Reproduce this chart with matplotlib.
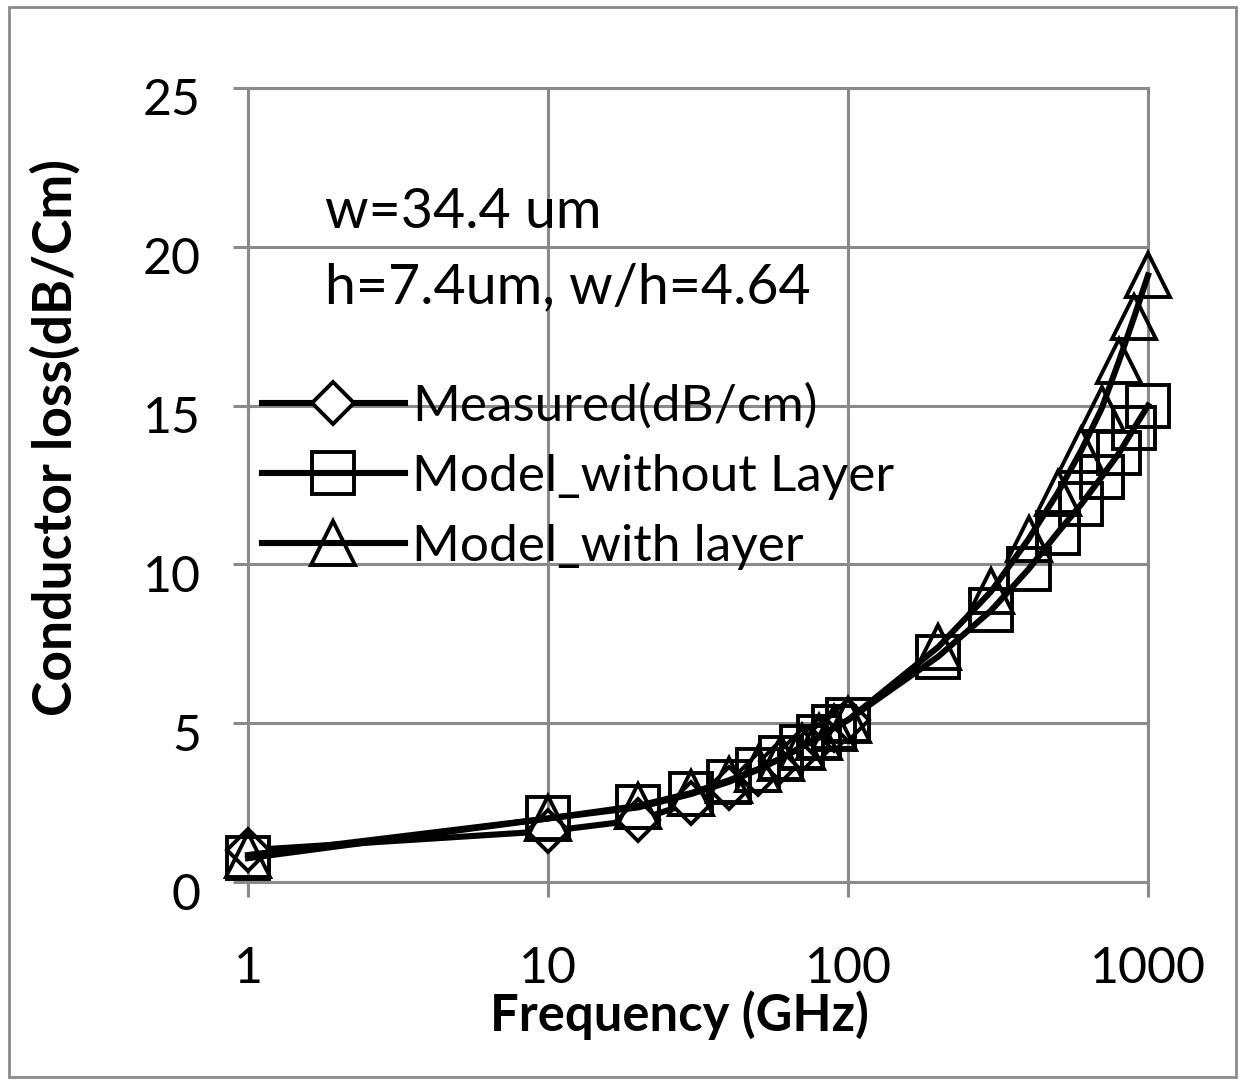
import matplotlib
matplotlib.use("Agg")
import matplotlib.pyplot as plt
from matplotlib.patches import Rectangle
from matplotlib.transforms import ScaledTranslation

# ---- data ----
freq_all = [1, 10, 20, 30, 40, 50, 60, 70, 80, 90, 100,
            200, 300, 400, 500, 600, 700, 800, 900, 1000]
freq_meas = [1, 10, 20, 30, 40, 50, 60, 70, 80, 90, 100]
measured = [1.0, 1.6, 1.95, 2.5, 2.95, 3.4, 3.8, 4.15, 4.5, 4.8, 5.1]
model_without = [0.75, 2.0, 2.35, 2.77, 3.15, 3.53, 3.9, 4.25, 4.57, 4.88, 5.1,
                 7.1, 8.55, 9.85, 11.0, 11.9, 12.75, 13.5, 14.3, 15.0]
model_with = [0.85, 2.0, 2.4, 2.8, 3.2, 3.55, 3.9, 4.25, 4.55, 4.85, 5.1,
              7.4, 9.15, 10.8, 12.25, 13.6, 14.9, 16.4, 17.8, 19.1]
series_labels = ["Measured(dB/cm)", "Model_without Layer", "Model_with layer"]
x_ticks = [1, 10, 100, 1000]
x_ticklabels = ["1", "10", "100", "1000"]
y_ticks = [0, 5, 10, 15, 20, 25]
annot_lines = ["w=34.4 um", "h=7.4um, w/h=4.64"]
xlabel = "Frequency (GHz)"
ylabel = "Conductor loss(dB/Cm)"

plt.rcParams['font.family'] = ['Lato', 'DejaVu Sans']

W, H = 1244, 1085
fig = plt.figure(figsize=(W / 100, H / 100), dpi=100)
ax = fig.add_axes([248 / W, 1 - 882 / H, 900 / W, 794 / H])

grid_c = '#8a8a8a'
lw_line = 4.4
mew = 2.8
common = dict(color='black', lw=lw_line, mec='black', mew=mew, clip_on=False)

ax.plot(freq_meas, measured, marker='D', ms=21, mfc='white', label=series_labels[0],
        zorder=3, **common)
ax.plot(freq_all, model_without, marker='s', ms=30, mfc='none', label=series_labels[1],
        zorder=4, **common)
ax.plot(freq_all, model_with, marker='^', ms=31, mfc='none', label=series_labels[2],
        zorder=5, **common)

ax.set_xscale('log')
ax.set_xlim(1, 1000)
ax.set_ylim(0, 25)
ax.set_xticks(x_ticks)
ax.set_xticklabels(x_ticklabels)
ax.minorticks_off()
ax.set_yticks(y_ticks)
ax.grid(True, color=grid_c, lw=2.2)
ax.set_axisbelow(True)
for s in ax.spines.values():
    s.set_color(grid_c)
    s.set_linewidth(2.2)
ax.tick_params(axis='both', direction='out', length=11, width=2.2, color=grid_c,
               labelsize=36)
ax.tick_params(axis='x', pad=35)
ax.tick_params(axis='y', pad=23)
off = ScaledTranslation(0, -9 / 100, fig.dpi_scale_trans)
for lab in ax.get_yticklabels():
    lab.set_transform(lab.get_transform() + off)

fig.text(679 / W, 1 - 1015 / H, xlabel, fontsize=36.5, fontweight='bold',
         ha='center', va='center')
fig.text(55 / W, 1 - 437 / H, ylabel, fontsize=38.5, fontweight='bold',
         ha='center', va='center', rotation=90)

ax.text((325 - 248) / 900, (882 - 213) / 794, annot_lines[0], transform=ax.transAxes,
        fontsize=40, va='center', ha='left')
ax.text((325 - 248) / 900, (882 - 288) / 794, annot_lines[1], transform=ax.transAxes,
        fontsize=40, va='center', ha='left')

leg = ax.legend(loc='upper left', bbox_to_anchor=((262 - 248) / 900, (882 - 383) / 794),
                frameon=False, fontsize=37, handlelength=2.78, handletextpad=0.14,
                labelspacing=0.47, borderaxespad=0, borderpad=0)

fig.add_artist(Rectangle((9 / W, 8 / H), (1236 - 9) / W, (1078 - 8) / H,
                         transform=fig.transFigure, fill=False, edgecolor='#8a8a8a', lw=2))

fig.savefig('out.png', dpi=100)
